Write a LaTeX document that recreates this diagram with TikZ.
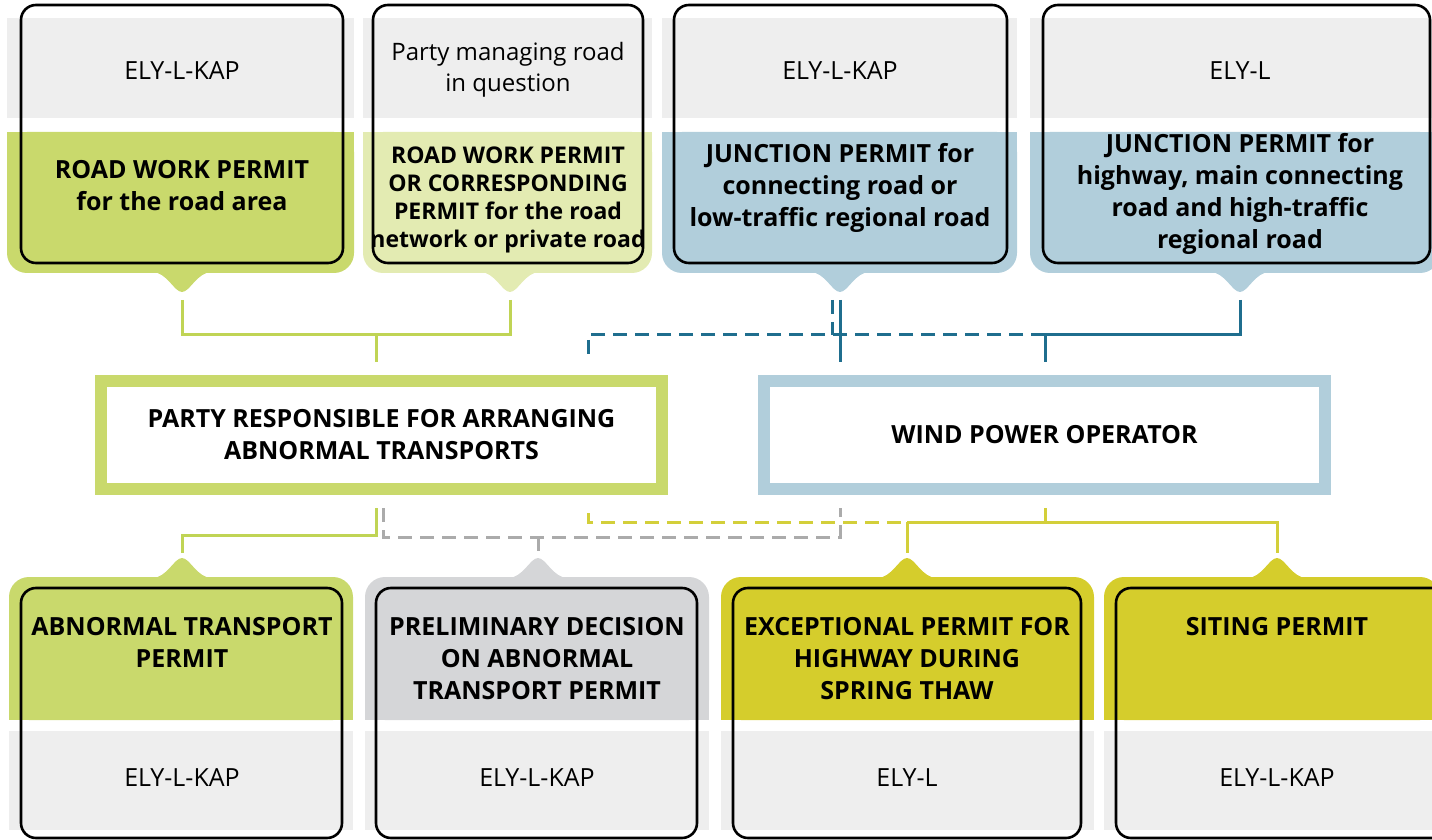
\documentclass[tikz,border=0pt]{standalone}
\usepackage{fontspec}
\setmainfont{Open Sans}
\usetikzlibrary{positioning,calc}

\definecolor{cardgreen}{HTML}{C9D96C}
\definecolor{cardpale}{HTML}{E3EBB2}
\definecolor{cardblue}{HTML}{B1CEDB}
\definecolor{cardgrey}{HTML}{D5D6D8}
\definecolor{cardyellow}{HTML}{D5CD2C}
\definecolor{bandgrey}{HTML}{EEEEEE}
\definecolor{linegreen}{HTML}{C0D455}
\definecolor{lineblue}{HTML}{1F6E8E}
\definecolor{linegrey}{HTML}{ABABAB}
\definecolor{lineyellow}{HTML}{D3CF3A}

\begin{document}
\begin{tikzpicture}[
  x=0.5pt, y=-0.5pt,
  outline/.style={draw=black, line width=1.3pt, rounded corners=7.5pt},
  whotext/.style={align=center, font=\fontsize{12.5}{16}\selectfont},
  whattext/.style={align=center, font=\bfseries\fontsize{12.5}{16}\selectfont},
  hub/.style={draw, line width=6pt, fill=white, minimum width=280.5pt, minimum height=54pt,
    align=center, font=\bfseries\fontsize{12.5}{16}\selectfont},
  link/.style={line width=1.5pt},
  dashlink/.style={link, dash pattern=on 7pt off 4pt}
]
\useasboundingbox (0,0) rectangle (1432,840);

% ----- coloured bands with pointers (colour, left, right, tip)
\def\topband#1#2#3#4{%
  \fill[#1, rounded corners=10pt] (#2,132) rectangle (#3,273);
  \fill[#1] (#2,132) rectangle (#3,200);
  \fill[#1] (#4-30,272) .. controls (#4-15,272) and (#4-8,292) .. (#4,292)
    .. controls (#4+8,292) and (#4+15,272) .. (#4+30,272) -- cycle;
  \fill[bandgrey] (#2,18) rectangle (#3,118);}
\def\lowband#1#2#3#4{%
  \fill[#1, rounded corners=10pt] (#2,577) rectangle (#3,720);
  \fill[#1] (#2,640) rectangle (#3,720);
  \fill[#1] (#4-30,578) .. controls (#4-15,578) and (#4-8,558) .. (#4,558)
    .. controls (#4+8,558) and (#4+15,578) .. (#4+30,578) -- cycle;
  \fill[bandgrey] (#2,731) rectangle (#3,830);}

\topband{cardgreen}{7}{354}{182}
\topband{cardpale}{363}{652}{510}
\topband{cardblue}{662}{1017}{840}
\topband{cardblue}{1030}{1440}{1240}
\lowband{cardgreen}{9}{353}{182}
\lowband{cardgrey}{365}{709}{538}
\lowband{cardyellow}{721}{1094}{907}
\lowband{cardyellow}{1104}{1440}{1277}

% ----- pointer tips
\coordinate (rwpTip) at (182,292);
\coordinate (rwnTip) at (510,292);
\coordinate (jcrTip) at (840,292);
\coordinate (jhwTip) at (1240,292);
\coordinate (atpTip) at (182,558);
\coordinate (pdcTip) at (538,558);
\coordinate (ehwTip) at (907,558);
\coordinate (sitTip) at (1277,558);

% ----- upper permits
\node[outline, minimum width=161pt, minimum height=129pt] (rwp) at (182,134) {};
\node[outline, minimum width=135pt, minimum height=129pt] (rwn) at (508,134) {};
\node[outline, minimum width=166.5pt, minimum height=129pt] (jcr) at (840.5,134) {};
\node[outline, minimum width=193.5pt, minimum height=129pt] (jhw) at (1236.5,134) {};

\node[whotext] (rwp-who) at (182,71) {ELY-L-KAP};
\node[whotext, font=\fontsize{12}{15.5}\selectfont] (rwn-who) at (508,70) {Party managing road\\in question};
\node[whotext] (jcr-who) at (840,71) {ELY-L-KAP};
\node[whotext] (jhw-who) at (1240,71) {ELY-L};

\node[whattext] (rwp-what) at (182,186) {ROAD WORK PERMIT\\for the road area};
\node[whattext, font=\bfseries\fontsize{11.5}{14}\selectfont] (rwn-what) at (508,200)
  {ROAD WORK PERMIT\\OR CORRESPONDING\\PERMIT for the road\\network or private road};
\node[whattext] (jcr-what) at (840,188) {JUNCTION PERMIT for\\connecting road or\\low-traffic regional road};
\node[whattext] (jhw-what) at (1240,194) {JUNCTION PERMIT for\\highway, main connecting\\road and high-traffic\\regional road};

% ----- applicants
\node[hub, draw=cardgreen] (party) at (381.5,435) {PARTY RESPONSIBLE FOR ARRANGING\\ABNORMAL TRANSPORTS};
\node[hub, draw=cardblue] (wind) at (1044.5,435) {WIND POWER OPERATOR};

% ----- lower permits
\node[outline, minimum width=160.5pt, minimum height=125pt] (atp) at (181.5,713) {};
\node[outline, minimum width=160.5pt, minimum height=125pt] (pdc) at (536.5,713) {};
\node[outline, minimum width=174pt, minimum height=125pt] (ehw) at (907,713) {};
\node[outline, minimum width=170pt, minimum height=125pt] (sit) at (1286,713) {};

\node[whattext, anchor=north] (atp-what) at (182,610) {ABNORMAL TRANSPORT\\PERMIT};
\node[whattext, anchor=north] (pdc-what) at (537,610) {PRELIMINARY DECISION\\ON ABNORMAL\\TRANSPORT PERMIT};
\node[whattext, anchor=north] (ehw-what) at (907,610) {EXCEPTIONAL PERMIT FOR\\HIGHWAY DURING\\SPRING THAW};
\node[whattext, anchor=north] (sit-what) at (1277,610) {SITING PERMIT};

\node[whotext] (atp-who) at (182,778) {ELY-L-KAP};
\node[whotext] (pdc-who) at (537,778) {ELY-L-KAP};
\node[whotext] (ehw-who) at (907,778) {ELY-L};
\node[whotext] (sit-who) at (1277,778) {ELY-L-KAP};

% ----- junction points
\coordinate (jg) at (376,335);
\coordinate (jb) at (1045,335);
\coordinate (jd) at (588,335);
\coordinate (kg) at (376,535);
\coordinate (kd) at (383,537);
\coordinate (ke) at (840,537);
\coordinate (ky) at (588,522);
\coordinate (kw) at (1045,522);

% upper connectors
\draw[link, linegreen, shorten <=4pt] (rwpTip) |- (jg);
\draw[link, linegreen, shorten <=4pt] (rwnTip) |- (jg);
\draw[link, linegreen, shorten >=6.5pt] (jg) -- (jg |- party.north);
\draw[dashlink, lineblue, shorten >=9.5pt] (jb) -- (jd) -- (jd |- party.north);
\draw[dashlink, lineblue, shorten <=4pt] ([xshift=-4pt]jcrTip) -- ([xshift=-4pt]jcrTip |- jd);
\draw[link, lineblue, shorten <=4pt, shorten >=6.5pt] (jcrTip) -- (jcrTip |- wind.north);
\draw[link, lineblue, shorten <=4pt] (jhwTip) |- (jb);
\draw[link, lineblue, shorten >=6.5pt] (jb) -- (jb |- wind.north);

% lower connectors
\draw[link, linegreen, shorten <=6.5pt, shorten >=2.5pt] (kg |- party.south) -- (kg) -| (atpTip);
\draw[dashlink, linegrey, shorten <=6.5pt, shorten >=6.5pt] (kd |- party.south) -- (kd) -- (ke) -- (ke |- wind.south);
\draw[dashlink, linegrey, shorten >=2.5pt] (kd -| pdcTip) -- (pdcTip);
\draw[dashlink, lineyellow, shorten <=9pt] (ky |- party.south) -- (ky) -- (ky -| ehwTip);
\draw[link, lineyellow, shorten <=6.5pt] (kw |- wind.south) -- (kw);
\draw[link, lineyellow, shorten >=2.5pt] (ehwTip |- kw) -- (ehwTip);
\draw[link, lineyellow, shorten >=2.5pt] (ehwTip |- kw) -| (sitTip);

\end{tikzpicture}
\end{document}
